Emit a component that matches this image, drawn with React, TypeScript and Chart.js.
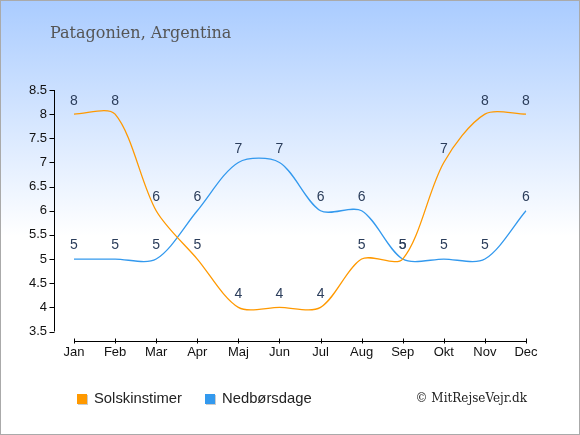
import React, { useEffect, useRef } from 'react';
import { Chart, registerables } from 'chart.js';

Chart.register(...registerables);

const months = ['Jan', 'Feb', 'Mar', 'Apr', 'Maj', 'Jun', 'Jul', 'Aug', 'Sep', 'Okt', 'Nov', 'Dec'];
const sunHours = [8, 8, 6, 5, 4, 4, 4, 5, 5, 7, 8, 8];
const rainDays = [5, 5, 5, 6, 7, 7, 6, 6, 5, 5, 5, 6];
const yMin = 3.5;
const yMax = 8.5;
const yStep = 0.5;

const seriesNames = ['Solskinstimer', 'Nedbørsdage'];
const seriesColors = ['#ff9900', '#3399ee'];
const titleText = 'Patagonien, Argentina';
const creditText = '© MitRejseVejr.dk';

const SANS = "'Liberation Sans', Arial, sans-serif";
const SERIF = "'DejaVu Serif', serif";

const axesPlugin = {
  id: 'customAxes',
  afterDraw(chart: any) {
    const { ctx, chartArea } = chart;
    const x = chart.scales.x;
    const y = chart.scales.y;
    ctx.save();
    ctx.strokeStyle = '#000';
    ctx.lineWidth = 1;
    ctx.beginPath();
    const ax = chartArea.left - 19.5;
    const top = y.getPixelForValue(yMax);
    const bottom = y.getPixelForValue(yMin);
    ctx.moveTo(ax, top);
    ctx.lineTo(ax, bottom);
    y.ticks.forEach((t: any) => {
      const py = Math.round(y.getPixelForValue(t.value)) + 0.5;
      ctx.moveTo(ax - 5, py);
      ctx.lineTo(ax, py);
    });
    const ay = chartArea.bottom + 10;
    const x0 = x.getPixelForValue(0);
    const x1 = x.getPixelForValue(months.length - 1);
    ctx.moveTo(x0, ay);
    ctx.lineTo(x1, ay);
    months.forEach((_m, i) => {
      const px = Math.round(x.getPixelForValue(i)) + 0.5;
      ctx.moveTo(px, ay - 3);
      ctx.lineTo(px, ay + 2);
    });
    ctx.stroke();
    ctx.restore();
  },
};

const labelPlugin = {
  id: 'valueLabels',
  afterDatasetsDraw(chart: any) {
    const { ctx } = chart;
    ctx.save();
    ctx.font = `14px ${SANS}`;
    ctx.fillStyle = '#2b3d5b';
    ctx.textAlign = 'center';
    ctx.textBaseline = 'middle';
    chart.data.datasets.forEach((ds: any, di: number) => {
      const meta = chart.getDatasetMeta(di);
      meta.data.forEach((pt: any, i: number) => {
        ctx.fillText(String(ds.data[i]), pt.x, pt.y - 13.5);
      });
    });
    ctx.restore();
  },
};

export default function App() {
  const canvasRef = useRef<HTMLCanvasElement | null>(null);

  useEffect(() => {
    document.body.style.margin = '0';
    const canvas = canvasRef.current;
    if (!canvas) return;
    const chart = new Chart(canvas, {
      type: 'line',
      data: {
        labels: months,
        datasets: [
          {
            label: seriesNames[0],
            data: sunHours,
            borderColor: seriesColors[0],
            backgroundColor: seriesColors[0],
            borderWidth: 1.3,
            pointRadius: 0,
            tension: 0.3,
            fill: false,
          },
          {
            label: seriesNames[1],
            data: rainDays,
            borderColor: seriesColors[1],
            backgroundColor: seriesColors[1],
            borderWidth: 1.3,
            pointRadius: 0,
            tension: 0.3,
            fill: false,
          },
        ],
      },
      options: {
        animation: false,
        responsive: false,
        devicePixelRatio: 1,
        layout: { padding: { left: 0, top: 89, right: 53, bottom: 0 } },
        plugins: {
          legend: { display: false },
          title: { display: false },
          tooltip: { enabled: false },
        },
        scales: {
          x: {
            type: 'category',
            offset: false,
            grid: { display: false, drawTicks: false },
            border: { display: false },
            ticks: { color: '#111', font: { family: SANS, size: 13 }, padding: 13, maxRotation: 0, autoSkip: false },
            afterFit(scale: any) {
              scale.height = 102.5;
            },
          },
          y: {
            type: 'linear',
            min: yMin,
            max: yMax,
            grid: { display: false, drawTicks: false },
            border: { display: false },
            ticks: {
              stepSize: yStep,
              color: '#111',
              font: { family: SANS, size: 13 },
              padding: 27,
              callback: (v: any) => String(Number(v)),
            },
            afterFit(scale: any) {
              scale.width = 73;
            },
          },
        },
      },
      plugins: [axesPlugin, labelPlugin],
    });
    return () => chart.destroy();
  }, []);

  const square = (color: string) => ({
    position: 'absolute' as const,
    width: 10,
    height: 10,
    background: color,
    boxShadow: '1px 1px 0 rgba(0,0,0,0.2)',
  });

  return (
    <div
      style={{
        position: 'fixed',
        left: 0,
        top: 0,
        width: 580,
        height: 435,
        boxSizing: 'border-box',
        border: '1px solid #aaaaaa',
        background: 'linear-gradient(to bottom, #aaccff 0px, #ffffff 235px)',
        overflow: 'hidden',
      }}
    >
      <canvas ref={canvasRef} width={578} height={433} style={{ position: 'absolute', left: 0, top: 0, width: 578, height: 433 }} />
      <div
        style={{
          position: 'absolute',
          left: 49,
          top: 22,
          font: `16px ${SERIF}`,
          lineHeight: '20px',
          color: '#555',
          whiteSpace: 'nowrap',
        }}
      >
        {titleText}
      </div>
      <div style={{ ...square(seriesColors[0]), left: 76, top: 393 }} />
      <div style={{ position: 'absolute', left: 93, top: 387, font: `14.8px ${SANS}`, lineHeight: '20px', color: '#222', whiteSpace: 'nowrap' }}>
        {seriesNames[0]}
      </div>
      <div style={{ ...square(seriesColors[1]), left: 204, top: 393 }} />
      <div style={{ position: 'absolute', left: 221, top: 387, font: `14.8px ${SANS}`, lineHeight: '20px', color: '#222', whiteSpace: 'nowrap' }}>
        {seriesNames[1]}
      </div>
      <div style={{ position: 'absolute', right: 52, top: 387, font: `12px ${SERIF}`, lineHeight: '20px', color: '#222', whiteSpace: 'nowrap' }}>
        {creditText}
      </div>
    </div>
  );
}
